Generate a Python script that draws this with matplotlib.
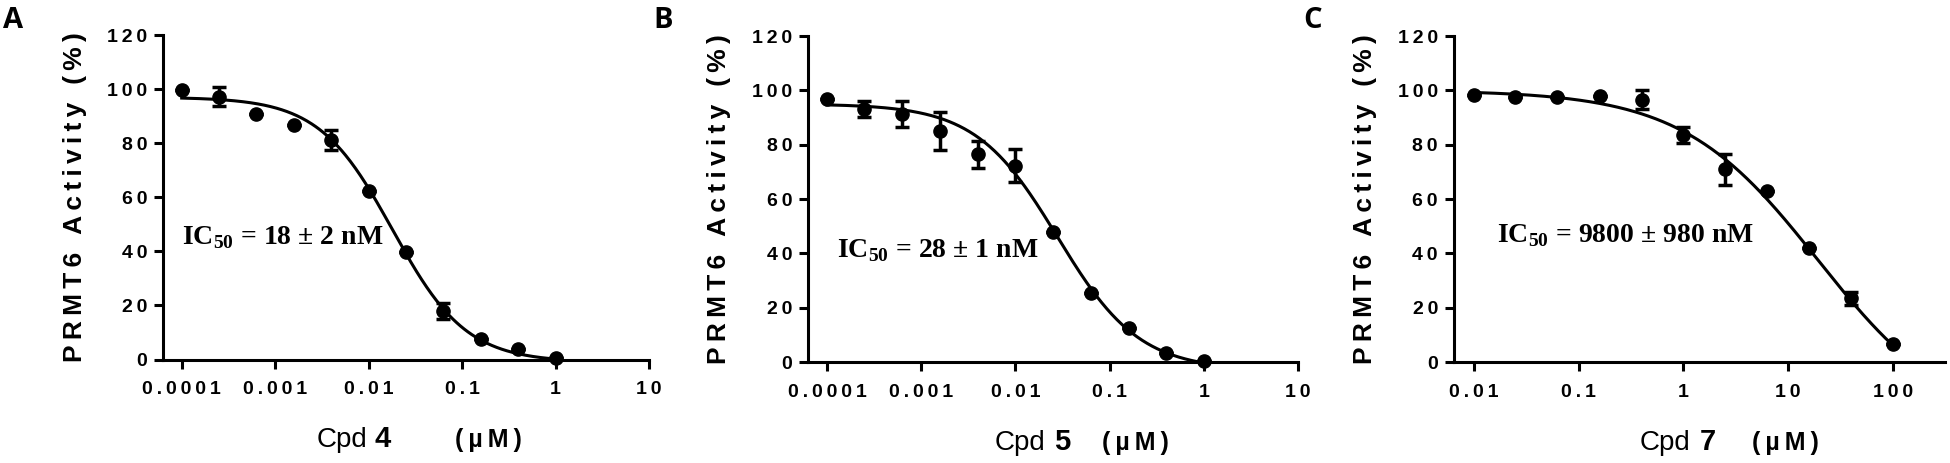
import numpy as np
import matplotlib.pyplot as plt

# concentrations (uM), 2.5-fold dilution series
conc_45 = [0.0001, 0.00025, 0.00063, 0.0016, 0.004, 0.01, 0.025, 0.063, 0.16, 0.4, 1.0]
conc_7 = [0.01, 0.025, 0.063, 0.16, 0.4, 1.0, 2.5, 6.3, 16, 40, 100]

# PRMT6 activity (%) and error bars
act_4 = [99.5, 97.2, 90.8, 86.6, 81.2, 62.3, 39.6, 18.0, 7.5, 3.8, 0.6]
err_4 = [0, 3.6, 0, 0, 3.8, 0, 0, 3.0, 0, 0, 0]
act_5 = [97.0, 93.2, 91.4, 85.0, 76.5, 72.3, 47.8, 25.5, 12.5, 3.2, 0.2]
err_5 = [0, 3.0, 4.8, 7.0, 5.0, 6.0, 0, 0, 0, 0, 0]
act_7 = [98.4, 97.6, 97.4, 98.0, 96.6, 83.6, 71.0, 63.0, 41.8, 23.4, 6.5]
err_7 = [0, 0, 0, 0, 3.4, 3.0, 5.7, 0, 0, 2.5, 0]

# four-parameter logistic fits: top, bottom, midpoint (uM), hill slope
fit_4 = (97, -1, 0.018, 1.1)
fit_5 = (95, -3, 0.028, 1.0)
fit_7 = (100, -25, 19.4, 0.67)

ic50_text = ['18 ± 2 nM', '28 ± 1 nM', '9800 ± 980 nM']
cpd_names = ['4', '5', '7']
panel_letters = ['A', 'B', 'C']

xticks_45 = [0.0001, 0.001, 0.01, 0.1, 1, 10]
xlabels_45 = ['0.0001', '0.001', '0.01', '0.1', '1', '10']
xticks_7 = [0.01, 0.1, 1, 10, 100]
xlabels_7 = ['0.01', '0.1', '1', '10', '100']
yticks = [0, 20, 40, 60, 80, 100, 120]

SANS = ['Liberation Sans', 'DejaVu Sans']


def spaced(s, sep='\u2009'):
    return sep.join(s)


def logistic(x, top, bottom, mid, hill):
    return bottom + (top - bottom) / (1 + (x / mid) ** hill)


fig = plt.figure(figsize=(19.5, 4.63), dpi=100)

panels = [
    dict(pos=[0.0836, 0.2235, 0.2492, 0.7009], conc=conc_45, act=act_4, err=err_4, fit=fit_4,
         xlim=(10 ** -4.2, 10), xticks=xticks_45, xlabels=xlabels_45,
         ic=(0.039, 0.356), cpd_x=(0.317, 0.436, 0.601), letter_x=3),
    dict(pos=[0.4144, 0.2181, 0.2513, 0.7041], conc=conc_45, act=act_5, err=err_5, fit=fit_5,
         xlim=(10 ** -4.2, 10), xticks=xticks_45, xlabels=xlabels_45,
         ic=(0.058, 0.322), cpd_x=(0.380, 0.502, 0.600), letter_x=653),
    dict(pos=[0.7456, 0.2181, 0.2518, 0.7041], conc=conc_7, act=act_7, err=err_7, fit=fit_7,
         xlim=(10 ** -2.19, 10 ** 2.5), xticks=xticks_7, xlabels=xlabels_7,
         ic=(0.088, 0.369), cpd_x=(0.379, 0.501, 0.607), letter_x=1303),
]

for i, p in enumerate(panels):
    ax = fig.add_axes(p['pos'])
    ax.set_xscale('log')

    xs = np.logspace(np.log10(p['conc'][0]), np.log10(p['conc'][-1]), 300)
    ax.plot(xs, logistic(xs, *p['fit']), color='black', lw=2.2, clip_on=False)
    ax.errorbar(p['conc'], p['act'], yerr=p['err'], fmt='o', color='black', ms=9.5,
                elinewidth=2.5, capsize=5, capthick=2.5, clip_on=False, zorder=3)

    ax.set_xlim(*p['xlim'])
    ax.set_ylim(0, 120)
    ax.set_xticks(p['xticks'])
    ax.set_xticklabels([spaced(t) for t in p['xlabels']], family=SANS,
                       fontweight='bold', fontsize=14)
    ax.minorticks_off()
    ax.set_yticks(yticks)
    ax.set_yticklabels([spaced(str(t)) for t in yticks], family=SANS,
                       fontweight='bold', fontsize=14)
    ax.tick_params(axis='both', length=6.5, width=2.2, color='black')
    ax.tick_params(axis='x', pad=9)
    ax.tick_params(axis='y', pad=5)
    for side in ['top', 'right']:
        ax.spines[side].set_visible(False)
    for side in ['left', 'bottom']:
        ax.spines[side].set_linewidth(2.2)

    ax.set_ylabel(spaced('PRMT6 Activity (%)'), family=SANS, fontweight='bold', fontsize=19)
    ax.yaxis.set_label_coords(-0.157, 0.5)

    ax.text(p['ic'][0], p['ic'][1], r'IC$_{\mathregular{50}}$ = ' + ic50_text[i],
            transform=ax.transAxes, family='Liberation Serif', fontweight='bold',
            fontsize=20, va='baseline')

    cx = p['cpd_x']
    ly = -0.27
    ax.text(cx[0], ly, 'Cpd', transform=ax.transAxes, family=SANS, fontsize=20, va='baseline')
    ax.text(cx[1], ly, cpd_names[i], transform=ax.transAxes, family=SANS,
            fontweight='bold', fontsize=21, va='baseline')
    ax.text(cx[2], ly, spaced('(µM)'), transform=ax.transAxes, family=SANS,
            fontweight='bold', fontsize=18, va='baseline')

    fig.text(p['letter_x'] / 1950, 1 - 6 / 463, panel_letters[i], family=['Open Sans'] + SANS,
             fontweight='bold', fontsize=21, va='top', ha='left')

fig.savefig('out.png', dpi=100)
